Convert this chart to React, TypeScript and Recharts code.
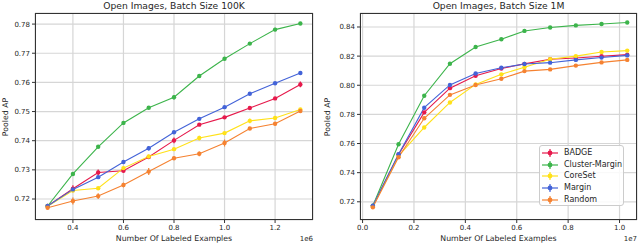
import { LineChart, Line, XAxis, YAxis, CartesianGrid, ErrorBar } from 'recharts'

// method names and colours (same order in both panels)
const methods = ['BADGE', 'Cluster-Margin', 'CoreSet', 'Margin', 'Random']
const keys = ['badge', 'cluster', 'coreset', 'margin', 'random']
const colors = ['#e6194b', '#3cb44b', '#ffe119', '#4363d8', '#f58231']

// left panel: batch size 100K (x in units of 1e6)
const leftX = [0.3, 0.4, 0.5, 0.6, 0.7, 0.8, 0.9, 1.0, 1.1, 1.2, 1.3]
const leftBadge = [0.7176, 0.7235, 0.7291, 0.7297, 0.7344, 0.7401, 0.7455, 0.748, 0.7512, 0.7545, 0.7593]
const leftCluster = [0.7176, 0.7286, 0.7379, 0.7461, 0.7513, 0.7549, 0.7622, 0.7681, 0.7733, 0.7781, 0.7802]
const leftCoreSet = [0.7175, 0.7229, 0.7237, 0.7306, 0.7346, 0.7371, 0.7409, 0.7426, 0.7468, 0.7478, 0.7507]
const leftMargin = [0.7176, 0.7233, 0.7275, 0.7327, 0.7374, 0.7429, 0.7475, 0.7515, 0.7561, 0.7597, 0.7632]
const leftRandom = [0.717, 0.7193, 0.721, 0.7248, 0.7294, 0.734, 0.7355, 0.7392, 0.7442, 0.7458, 0.7502]
const leftBadgeErr = [0.0003, 0.0012, 0.001, 0.0005, 0.0005, 0.001, 0.0005, 0.0005, 0.0004, 0.0005, 0.001]
const leftClusterErr = [0.0003, 0.0004, 0.0004, 0.0004, 0.0004, 0.0008, 0.0004, 0.0004, 0.0004, 0.0006, 0.0003]
const leftCoreSetErr = [0.0003, 0.0005, 0.0004, 0.0006, 0.0004, 0.0004, 0.0008, 0.0004, 0.0008, 0.0004, 0.0004]
const leftMarginErr = [0.0003, 0.0005, 0.0005, 0.0004, 0.0008, 0.0004, 0.0004, 0.0004, 0.0004, 0.0004, 0.0004]
const leftRandomErr = [0.0003, 0.0012, 0.001, 0.0008, 0.0012, 0.0005, 0.0008, 0.0012, 0.0005, 0.0005, 0.0004]
const leftXTicks = [0.4, 0.6, 0.8, 1.0, 1.2]
const leftYTicks = [0.72, 0.73, 0.74, 0.75, 0.76, 0.77, 0.78]

// right panel: batch size 1M (x in units of 1e7)
const rightX = [0.04, 0.14, 0.24, 0.34, 0.44, 0.54, 0.63, 0.73, 0.83, 0.93, 1.03]
const rightBadge = [0.7172, 0.7525, 0.7814, 0.798, 0.8065, 0.8115, 0.8147, 0.8178, 0.8187, 0.8199, 0.821]
const rightCluster = [0.7173, 0.7595, 0.7928, 0.8148, 0.8263, 0.8316, 0.8373, 0.8396, 0.8411, 0.842, 0.8431]
const rightCoreSet = [0.717, 0.7515, 0.771, 0.7882, 0.8006, 0.8075, 0.8124, 0.8178, 0.82, 0.8228, 0.8238]
const rightMargin = [0.7173, 0.7527, 0.7846, 0.8002, 0.8081, 0.812, 0.8146, 0.8155, 0.8174, 0.819, 0.8205]
const rightRandom = [0.7162, 0.7506, 0.7773, 0.7934, 0.8002, 0.8045, 0.8097, 0.8109, 0.8135, 0.8157, 0.8174]
const rightXTicks = [0.0, 0.2, 0.4, 0.6, 0.8, 1.0]
const rightYTicks = [0.72, 0.74, 0.76, 0.78, 0.8, 0.82, 0.84]

const leftData = leftX.map((x, i) => ({
  x,
  badge: leftBadge[i], badgeErr: leftBadgeErr[i],
  cluster: leftCluster[i], clusterErr: leftClusterErr[i],
  coreset: leftCoreSet[i], coresetErr: leftCoreSetErr[i],
  margin: leftMargin[i], marginErr: leftMarginErr[i],
  random: leftRandom[i], randomErr: leftRandomErr[i],
}))

const rightData = rightX.map((x, i) => ({
  x,
  badge: rightBadge[i],
  cluster: rightCluster[i],
  coreset: rightCoreSet[i],
  margin: rightMargin[i],
  random: rightRandom[i],
}))

const FONT = '"DejaVu Sans", sans-serif'
const TEXT = '#262626'

interface PanelProps {
  left: number
  title: string
  offsetText: string
  data: any[]
  xDomain: [number, number]
  xTicks: number[]
  yDomain: [number, number]
  yTicks: number[]
  yWidth: number
  rightGap: number
  labelX: number
  errors: boolean
  xFmt: (v: number) => string
  yFmt: (v: number) => string
}

function Panel(p: PanelProps) {
  const plotLeft = p.yWidth
  const plotRight = 320 - p.rightGap
  const plotW = plotRight - plotLeft
  const mid = plotLeft + plotW / 2
  const tick = { fontSize: 7, fill: TEXT, fontFamily: FONT }

  return (
    <div style={{ position: 'absolute', left: p.left, top: 0, width: 320, height: 244 }}>
      <LineChart width={320} height={244} data={p.data} margin={{ top: 13, right: p.rightGap, bottom: 0, left: 0 }}>
        <CartesianGrid stroke="#d6d6d6" strokeWidth={1.2} />
        <XAxis
          dataKey="x"
          type="number"
          domain={p.xDomain}
          ticks={p.xTicks}
          tickFormatter={p.xFmt}
          height={24}
          axisLine={false}
          tickLine={{ stroke: '#333' }}
          tickSize={3}
          tickMargin={2}
          tick={tick}
          allowDataOverflow
        />
        <YAxis
          type="number"
          domain={p.yDomain}
          ticks={p.yTicks}
          tickFormatter={p.yFmt}
          width={p.yWidth}
          axisLine={false}
          tickLine={{ stroke: '#333' }}
          tickSize={3}
          tickMargin={2}
          tick={tick}
          allowDataOverflow
        />
        {keys.map((k, i) => (
          <Line
            key={k}
            dataKey={k}
            stroke={colors[i]}
            strokeWidth={1.1}
            dot={{ r: 2.2, fill: colors[i], stroke: colors[i], strokeWidth: 0 }}
            activeDot={false}
            isAnimationActive={false}
          >
            {p.errors && (
              <ErrorBar dataKey={k + 'Err'} direction="y" width={0} stroke={colors[i]} strokeWidth={1.2} />
            )}
          </Line>
        ))}
      </LineChart>
      {/* axes frame */}
      <div
        style={{
          position: 'absolute', left: plotLeft, top: 13, width: plotW, height: 207,
          border: '1px solid #333', boxSizing: 'border-box', pointerEvents: 'none',
        }}
      />
      <div style={{ position: 'absolute', left: mid - 120, width: 240, top: 0, textAlign: 'center', fontFamily: FONT, fontSize: 9.2, color: TEXT, lineHeight: '11px' }}>
        {p.title}
      </div>
      <div style={{ position: 'absolute', left: mid - 100, width: 200, top: 234, textAlign: 'center', fontFamily: FONT, fontSize: 7.8, color: TEXT, lineHeight: '10px' }}>
        Number Of Labeled Examples
      </div>
      <div style={{ position: 'absolute', left: plotRight - 20, width: 20, top: 234, textAlign: 'right', fontFamily: FONT, fontSize: 7, color: TEXT, lineHeight: '10px' }}>
        {p.offsetText}
      </div>
      <div
        style={{
          position: 'absolute', left: p.labelX - 40, top: 116.5 - 5, width: 80, height: 10,
          textAlign: 'center', fontFamily: FONT, fontSize: 7.8, color: TEXT, lineHeight: '10px',
          transform: 'rotate(-90deg)',
        }}
      >
        Pooled AP
      </div>
    </div>
  )
}

function LegendBox() {
  return (
    <div
      style={{
        position: 'absolute', left: 539, top: 145, width: 85, height: 61, boxSizing: 'border-box',
        border: '1px solid #cccccc', borderRadius: 3, background: 'rgba(255,255,255,0.85)',
        paddingTop: 1, fontFamily: FONT, fontSize: 8, color: TEXT,
      }}
    >
      {methods.map((m, i) => (
        <div key={m} style={{ height: 11.7, display: 'flex', alignItems: 'center' }}>
          <svg width={16} height={10} style={{ marginLeft: 2, marginRight: 6 }}>
            <line x1={0} y1={5} x2={16} y2={5} stroke={colors[i]} strokeWidth={1.2} />
            <line x1={8} y1={1} x2={8} y2={9} stroke={colors[i]} strokeWidth={1.2} />
            <circle cx={8} cy={5} r={2.4} fill={colors[i]} />
          </svg>
          <span style={{ lineHeight: '10px' }}>{m}</span>
        </div>
      ))}
    </div>
  )
}

export default function App() {
  return (
    <div style={{ position: 'absolute', left: 0, top: 0, width: 640, height: 244, background: '#fff' }}>
      <Panel
        left={0}
        title="Open Images, Batch Size 100K"
        offsetText="1e6"
        data={leftData}
        xDomain={[0.25, 1.35]}
        xTicks={leftXTicks}
        yDomain={[0.7128, 0.7838]}
        yTicks={leftYTicks}
        yWidth={35}
        rightGap={7}
        labelX={6}
        errors
        xFmt={(v) => v.toFixed(1)}
        yFmt={(v) => v.toFixed(2)}
      />
      <Panel
        left={320}
        title="Open Images, Batch Size 1M"
        offsetText="1e7"
        data={rightData}
        xDomain={[-0.01, 1.068]}
        xTicks={rightXTicks}
        yDomain={[0.7075, 0.8496]}
        yTicks={rightYTicks}
        yWidth={40}
        rightGap={3}
        labelX={8}
        errors={false}
        xFmt={(v) => v.toFixed(1)}
        yFmt={(v) => v.toFixed(2)}
      />
      <LegendBox />
    </div>
  )
}
